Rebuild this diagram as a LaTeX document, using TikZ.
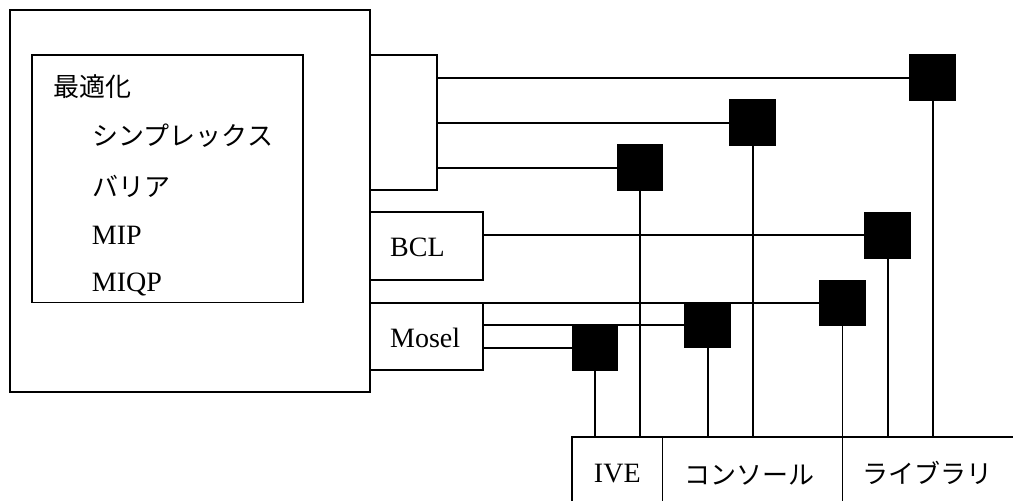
\documentclass[tikz,border=0pt]{standalone}
\usepackage{fontspec}
\setmainfont{Liberation Serif}
\newfontfamily\cjk{Noto Sans CJK JP}
\begin{document}
\begin{tikzpicture}[x=1pt,y=-1pt,line width=1.8pt]
\tikzset{
  box/.style={draw, rectangle, inner sep=0pt, outer sep=0pt, anchor=north west},
  sq/.style={fill=black, draw=none, rectangle, minimum size=46.7pt, inner sep=0pt, outer sep=0pt},
  jp/.style={font=\cjk\fontsize{26}{30}\selectfont, inner sep=0pt},
  lt/.style={font=\fontsize{28}{32}\selectfont, inner sep=0pt},
}
\fill[white] (0,0) rectangle (1013,501);
\clip (0,0) rectangle (1013,501);
% boxes
\node[box, minimum width=360pt, minimum height=382pt] (outer) at (10,10) {};
\node[box, minimum width=271pt, minimum height=247.5pt] (inner) at (32,55) {};
\node[box, minimum width=67pt, minimum height=135pt] (tab) at (370,55) {};
\node[box, minimum width=113pt, minimum height=68pt] (bcl) at (370,212) {};
\node[box, minimum width=113pt, minimum height=67pt] (mosel) at (370,303) {};
% bottom cells (open at bottom and right)
\node[box, minimum width=90.5pt, minimum height=80pt] (ive) at (572,437) {};
\node[box, minimum width=180pt, minimum height=80pt] (con) at (662.5,437) {};
\node[box, minimum width=180pt, minimum height=80pt] (lib) at (842.5,437) {};
% texts
\node[jp, anchor=west] (t1) at (52.7,86.7) {最適化};
\node[jp, anchor=west] (t2) at (91.7,136) {シンプレックス};
\node[jp, anchor=west] (t3) at (91.7,186.5) {バリア};
\node[lt, anchor=base west] (t4) at (91,244.3) {MIP};
\node[lt, anchor=base west] (t5) at (91,291.7) {MIQP};
\node[lt, anchor=base west] (tb) at (389.3,256.7) {BCL};
\node[lt, anchor=base west] (tm) at (389.3,347) {Mosel};
\node[lt, anchor=base] (tive) at (617.3,482.3) {IVE};
\node[jp] (tcon) at (749,475) {コンソール};
\node[jp] (tlib) at (927.5,472.5) {ライブラリ};
% squares
\node[sq] (S1) at (932.7,77.7) {};
\node[sq] (S2) at (752.7,122.7) {};
\node[sq] (S3) at (640,167.7) {};
\node[sq] (S4) at (887.7,235.3) {};
\node[sq] (S5) at (842.5,303) {};
\node[sq] (S6) at (707.7,325) {};
\node[sq] (S7) at (595,347.7) {};
% horizontal wires
\draw (tab.east |- S1) -- (S1);
\draw (tab.east |- S2) -- (S2);
\draw (tab.east |- S3) -- (S3);
\draw (bcl.east |- S4) -- (S4);
\draw (mosel.north east) -- (S5);
\draw (mosel.east |- S6) -- (S6);
\draw (mosel.east |- S7) -- (S7);
% vertical wires
\draw (S1) -- (S1 |- lib.north);
\draw (S2) -- (S2 |- con.north);
\draw (S3) -- (S3 |- ive.north);
\draw (S4) -- (S4 |- lib.north);
\draw (S5) -- (lib.north west);
\draw (S6) -- (S6 |- con.north);
\draw (S7) -- (S7 |- ive.north);
\end{tikzpicture}
\end{document}
